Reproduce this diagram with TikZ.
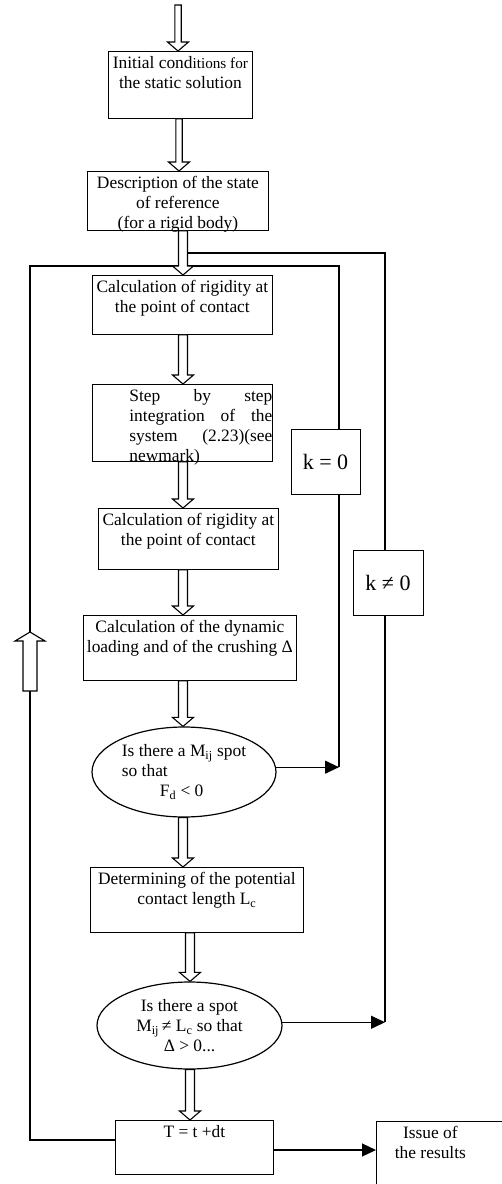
\documentclass[tikz,border=0pt]{standalone}
\usepackage{fontspec}
\setmainfont{Liberation Serif}
\usetikzlibrary{arrows.meta, shapes.geometric, calc}

\newcommand{\mainsize}{\fontsize{17.4}{20}\selectfont}
% Box text: width, height, lines (set from the top of the box)
\newcommand{\boxtext}[3]{\parbox[c][#2][t]{#1}{\centering\rule{0pt}{17.5pt}#3}}
% Hollow arrow: [half shaft width]{x}{from}{to}
\newcommand{\fatarrow}[4][4.5]{%
  \draw[fat] let \p1=(#3), \p2=(#4) in
    ({#2pt-#1pt},\y1) -- ({#2pt-#1pt},\y2+9pt) -- ({#2pt-10.5pt},\y2+9pt) -- (#2pt,\y2)
    -- ({#2pt+10.5pt},\y2+9pt) -- ({#2pt+#1pt},\y2+9pt) -- ({#2pt+#1pt},\y1) -- cycle;}

\begin{document}
\begin{tikzpicture}[
    x=1pt, y=-1pt, font=\mainsize,
    box/.style={draw, line width=0.8pt, inner sep=0pt, anchor=north west}, % Process boxes
    ell/.style={draw, ellipse, line width=1.2pt, inner sep=0pt, align=left}, % Tests
    kbox/.style={draw, fill=white, line width=0.8pt, minimum height=65pt,
                 font=\fontsize{22}{26}\selectfont}, % Loop labels
    fat/.style={draw, fill=white, line width=1.1pt}, % Hollow arrows
    link/.style={line width=1.2pt},
    arr/.style={link, -{Triangle[length=14pt, width=13pt]}}
]
\useasboundingbox (0,0) rectangle (502,1184);

% Main column
\node[box] (b1) at (108,51) {\boxtext{144pt}{67pt}{Initial cond{\fontsize{15.2}{20}\selectfont itions for}\\the static solution}};
\node[box] (b2) at (87,171) {\boxtext{181pt}{59pt}{Description of the state\\of reference\\(for a rigid body)}};
\node[box] (b3) at (92,275) {\boxtext{180pt}{59pt}{Calculation of rigidity at\\the point of contact}};
\node[box] (b4) at (92,384) {\parbox[c][77pt][t]{180pt}{\raggedleft\rule{0pt}{17.5pt}%
    \makebox[143pt][s]{Step by step}\\\makebox[143pt][s]{integration of the}\\
    \makebox[143pt][s]{system (2.23)(see}\\\makebox[143pt][l]{newmark)}}};
\node[box] (b5) at (98,508) {\boxtext{180pt}{61pt}{Calculation of rigidity at\\the point of contact}};
\node[box] (b6) at (83,615) {\boxtext{213pt}{65pt}{Calculation of the dynamic\\loading and of the crushing Δ}};
\node[ell, minimum width=184pt, minimum height=90pt] (e1) at (184,772)
    {Is there a M\textsubscript{ij} spot\\so that\\\hspace*{38pt}F\textsubscript{d} < 0};
\node[box] (b7) at (90,867) {\boxtext{213pt}{65pt}{Determining of the potential\\contact length L\textsubscript{c}}};
\node[ell, align=center, minimum width=185pt, minimum height=87pt] (e2) at (189.5,1025.5)
    {Is there a spot\\M\textsubscript{ij}\,≠ L\textsubscript{c} so that\\Δ > 0...};
\node[box] (tb) at (115,1120) {\boxtext{158pt}{54pt}{T = t +dt}};
\node[box] (res) at (376,1121) {\parbox[c][80pt][t]{108pt}{\centering\rule{0pt}{17.5pt}Issue of\\the results}\hspace*{42pt}};

% Loop labels
\node[kbox, minimum width=69pt] (k0) at (325.5,461.5) {k = 0};
\node[kbox, minimum width=70pt] (kn) at (388,582.5) {k ≠ 0};

% Loop corners
\coordinate (in) at (178,5);
\coordinate (ltop) at (30,266);
\coordinate (kzero) at (339,266);
\coordinate (rtop) at (385,253);
\coordinate (join) at (187.5,253);
\coordinate (tleft) at ($(tb.north west)+(0,20)$);
\coordinate (tright) at ($(tb.north east)+(0,30)$);

% Inner loop (k = 0)
\draw[link] (tleft) -| (ltop) -- (kzero) -- (k0.north -| kzero);
\draw[link] (k0.south -| kzero) -- (e1.3 -| kzero);
\draw[arr] (e1.3) -- (e1.3 -| kzero);

% Outer loop (k not 0)
\draw[link] (join) -- (rtop) -- (kn.north -| rtop);
\draw[link] (kn.south -| rtop) -- (e2.2 -| rtop);
\draw[arr] (e2.2) -- (e2.2 -| rtop);

% Output
\draw[arr] (tright) -- (tright -| res.west);

% Hollow arrows
\fatarrow[3.2]{178}{in}{b1.north}
\fatarrow[3.2]{179}{b1.south}{b2.north}
\fatarrow{183}{b2.south}{b3.north}
\fatarrow{183}{b3.south}{b4.north}
\fatarrow{183}{b4.south}{b5.north}
\fatarrow{183}{b5.south}{b6.north}
\fatarrow{183}{b6.south}{e1.north}
\fatarrow{183}{e1.south}{b7.north}
\fatarrow{190}{b7.south}{e2.north}
\fatarrow{190}{e2.south}{tb.north}
\draw[fat] (23,691) -- (23,641) -- (15,641) -- (30,632) -- (45,641) -- (37,641) -- (37,691) -- cycle;

\end{tikzpicture}
\end{document}
